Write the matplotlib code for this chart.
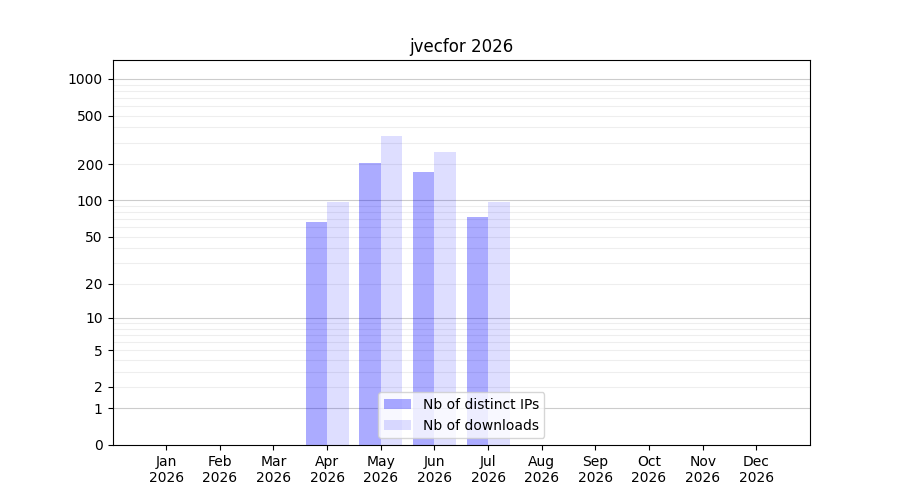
import numpy as np
import matplotlib
matplotlib.use('Agg')
import matplotlib.pyplot as plt

# donnees
mois = ['Jan', 'Feb', 'Mar', 'Apr', 'May', 'Jun', 'Jul', 'Aug', 'Sep', 'Oct', 'Nov', 'Dec']
annee = '2026'
nb_ips = [0, 0, 0, 66, 205, 173, 73, 0, 0, 0, 0, 0]
nb_downloads = [0, 0, 0, 97, 342, 253, 97, 0, 0, 0, 0, 0]
yticks = [0, 1, 2, 5, 10, 20, 50, 100, 200, 500, 1000]

fig, ax = plt.subplots(figsize=(9, 5), dpi=100)

# echelle log(1+x)
ax.set_yscale('function', functions=(lambda v: np.log10(1 + np.clip(v, 0, None)),
                                     lambda v: 10 ** v - 1))

x = np.arange(1, len(mois) + 1)
w = 0.4
ax.bar(x - w / 2, nb_ips, w, color='blue', alpha=0.33, label='Nb of distinct IPs')
ax.bar(x + w / 2, nb_downloads, w, color='blue', alpha=0.13, label='Nb of downloads')

# grille
for p in [1, 10, 100]:
    for k in range(1, 10):
        if k == 1:
            ax.axhline(p, color='#cccccc', lw=0.8, zorder=0)
        else:
            ax.axhline(k * p, color='#eeeeee', lw=0.8, zorder=0)
ax.axhline(1000, color='#cccccc', lw=0.8, zorder=0)

ax.set_yticks(yticks)
ax.set_yticklabels([str(t) for t in yticks])
ax.minorticks_off()
ax.set_ylim(0, 1430)

ax.set_xticks(x)
ax.set_xticklabels([m + '\n' + annee for m in mois])
ax.set_xlim(0, 13)

ax.set_title('jvecfor ' + annee)
ax.legend(loc='lower center')

plt.savefig('out.png')
